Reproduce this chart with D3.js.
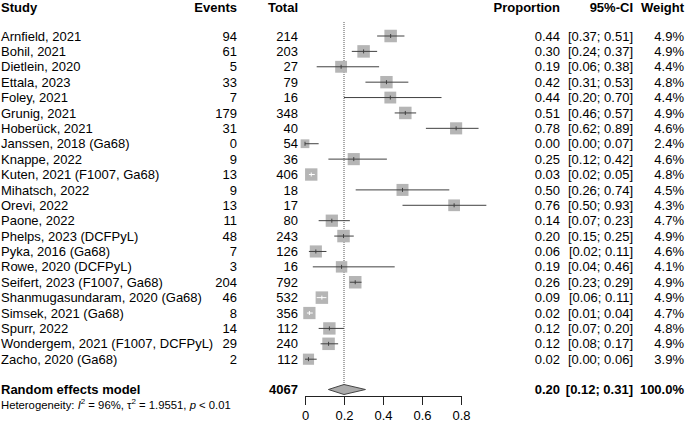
<!DOCTYPE html>
<html><head><meta charset="utf-8">
<script src="https://cdn.jsdelivr.net/npm/d3@7"></script>
<style>body{margin:0;background:#fff}svg{display:block;font-family:Arial,"Liberation Sans",sans-serif}</style>
</head><body><svg id="c" width="685" height="427"></svg>
<script>
const studies = ["Arnfield, 2021","Bohil, 2021","Dietlein, 2020","Ettala, 2023","Foley, 2021","Grunig, 2021","Hoberück, 2021","Janssen, 2018 (Ga68)","Knappe, 2022","Kuten, 2021 (F1007, Ga68)","Mihatsch, 2022","Orevi, 2022","Paone, 2022","Phelps, 2023 (DCFPyL)","Pyka, 2016 (Ga68)","Rowe, 2020 (DCFPyL)","Seifert, 2023 (F1007, Ga68)","Shanmugasundaram, 2020 (Ga68)","Simsek, 2021 (Ga68)","Spurr, 2022","Wondergem, 2021 (F1007, DCFPyL)","Zacho, 2020 (Ga68)"];
const events = [94,61,5,33,7,179,31,0,9,13,9,13,11,48,7,3,204,46,8,14,29,2];
const totals = [214,203,27,79,16,348,40,54,36,406,18,17,80,243,126,16,792,532,356,112,240,112];
const props = [0.44,0.30,0.19,0.42,0.44,0.51,0.78,0.00,0.25,0.03,0.50,0.76,0.14,0.20,0.06,0.19,0.26,0.09,0.02,0.12,0.12,0.02];
const ciLow = [0.37,0.24,0.06,0.31,0.20,0.46,0.62,0.00,0.12,0.02,0.26,0.50,0.07,0.15,0.02,0.04,0.23,0.06,0.01,0.07,0.08,0.00];
const ciHigh = [0.51,0.37,0.38,0.53,0.70,0.57,0.89,0.07,0.42,0.05,0.74,0.93,0.23,0.25,0.11,0.46,0.29,0.11,0.04,0.20,0.17,0.06];
const weights = [4.9,4.9,4.4,4.8,4.4,4.9,4.6,2.4,4.6,4.8,4.5,4.3,4.7,4.9,4.6,4.1,4.9,4.9,4.7,4.8,4.9,3.9];
const pooled = {label:"Random effects model", total:4067, est:0.20, lo:0.12, hi:0.31, weight:"100.0%"};
const axisTicks = [0,0.2,0.4,0.6,0.8];
const headers = ["Study","Events","Total","Proportion","95%-CI","Weight"];

const svg = d3.select("#c");
const x = d3.scaleLinear().domain([0,0.8]).range([305,461]);
const y = d3.scaleLinear().domain([0,21]).range([36,359.2]);
const fs = 13;
const colStudy=1, colEvents=237, colTotal=298, colProp=560, colCI=633, colW=684;
const f2 = d3.format(".2f");

// headers
const hy = 12;
const hx = [colStudy,colEvents,colTotal,colProp,colCI,colW];
headers.forEach((h,i)=>{
  svg.append("text").attr("x",hx[i]).attr("y",hy).attr("font-size",fs).attr("font-weight","bold")
    .attr("text-anchor",i===0?"start":"end").text(h);
});

const py = 389.5, pty = py+4.6, dh = 5;

// reference dotted line
svg.append("line").attr("x1",x(0.2)).attr("x2",x(0.2)).attr("y1",22).attr("y2",py-dh)
  .attr("stroke","#555").attr("stroke-width",1).attr("stroke-dasharray","1,1");

const rows = studies.map((s,i)=>({s,e:events[i],t:totals[i],p:props[i],lo:ciLow[i],hi:ciHigh[i],w:weights[i],i}));
const g = svg.append("g");
rows.forEach(d=>{
  const yy = y(d.i);
  const ty = yy+4.6;
  g.append("text").attr("x",colStudy).attr("y",ty).attr("font-size",fs).text(d.s);
  g.append("text").attr("x",colEvents).attr("y",ty).attr("font-size",fs).attr("text-anchor","end").text(d.e);
  g.append("text").attr("x",colTotal).attr("y",ty).attr("font-size",fs).attr("text-anchor","end").text(d.t);
  g.append("text").attr("x",colProp).attr("y",ty).attr("font-size",fs).attr("text-anchor","end").text(f2(d.p));
  g.append("text").attr("x",colCI).attr("y",ty).attr("font-size",fs).attr("text-anchor","end").text("["+f2(d.lo)+"; "+f2(d.hi)+"]");
  g.append("text").attr("x",colW).attr("y",ty).attr("font-size",fs).attr("text-anchor","end").text(d.w.toFixed(1)+"%");
  const size = 12.5*Math.sqrt(d.w/4.9);
  const cx = x(d.e/d.t);
  g.append("rect").attr("x",cx-size/2).attr("y",yy-size/2).attr("width",size).attr("height",size).attr("fill","#b5b5b5");
  const inside = x(d.lo) >= cx-size/2 && x(d.hi) <= cx+size/2;
  const col = inside ? "#ffffff" : "#404040";
  g.append("line").attr("x1",x(d.lo)).attr("x2",x(d.hi)).attr("y1",yy).attr("y2",yy).attr("stroke",col).attr("stroke-width",1);
  g.append("line").attr("x1",cx).attr("x2",cx).attr("y1",yy-2).attr("y2",yy+2).attr("stroke",col).attr("stroke-width",1);
});

// pooled
svg.append("text").attr("x",colStudy).attr("y",pty).attr("font-size",fs).attr("font-weight","bold").text(pooled.label);
svg.append("text").attr("x",colTotal).attr("y",pty).attr("font-size",fs).attr("font-weight","bold").attr("text-anchor","end").text(pooled.total);
svg.append("text").attr("x",colProp).attr("y",pty).attr("font-size",fs).attr("font-weight","bold").attr("text-anchor","end").text(f2(pooled.est));
svg.append("text").attr("x",colCI).attr("y",pty).attr("font-size",fs).attr("font-weight","bold").attr("text-anchor","end").text("["+f2(pooled.lo)+"; "+f2(pooled.hi)+"]");
svg.append("text").attr("x",colW).attr("y",pty).attr("font-size",fs).attr("font-weight","bold").attr("text-anchor","end").text(pooled.weight);
svg.append("path").attr("d",`M${x(pooled.lo)},${py} L${x(pooled.est)},${py-dh} L${x(pooled.hi)},${py} L${x(pooled.est)},${py+dh} Z`)
  .attr("fill","#ababab").attr("stroke","#444").attr("stroke-width",1);

// heterogeneity
const ht = svg.append("text").attr("x",colStudy).attr("y",409).attr("font-size",11.3);
ht.append("tspan").text("Heterogeneity: ");
ht.append("tspan").attr("font-style","italic").text("I");
ht.append("tspan").attr("font-size",8).attr("dy",-5).text("2");
ht.append("tspan").attr("dy",5).text(" = 96%, \u03C4");
ht.append("tspan").attr("font-size",8).attr("dy",-5).text("2");
ht.append("tspan").attr("dy",5).text(" = 1.9551, ");
ht.append("tspan").attr("font-style","italic").text("p");
ht.append("tspan").text(" < 0.01");

// axis
const ax = svg.append("g").attr("transform","translate(0,396)")
  .call(d3.axisBottom(x).tickValues(axisTicks).tickFormat(d=>d===0?"0":d3.format(".1f")(d)).tickSize(9).tickPadding(6));
ax.select(".domain").attr("stroke","#222");
ax.selectAll(".tick line").attr("stroke","#222");
ax.selectAll("text").attr("font-size",fs).attr("font-family","Arial, 'Liberation Sans', sans-serif").attr("fill","#000");
</script></body></html>
